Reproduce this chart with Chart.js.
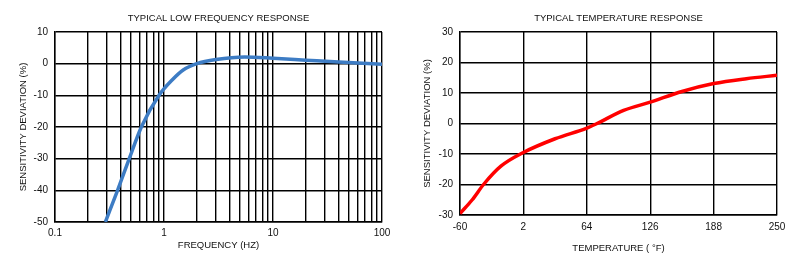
<!DOCTYPE html>
<html>
<head>
<meta charset="utf-8">
<script src="https://cdn.jsdelivr.net/npm/chart.js@4.4.1/dist/chart.umd.min.js"></script>
<style>
  html, body { margin: 0; padding: 0; background: #fff; }
  .wrap { position: relative; width: 800px; height: 271px; }
  .box { position: absolute; top: 0; width: 400px; height: 271px; }
</style>
</head>
<body>
<div class="wrap">
  <div class="box" style="left:0"><canvas id="freqChart" width="400" height="271"></canvas></div>
  <div class="box" style="left:400px"><canvas id="tempChart" width="400" height="271"></canvas></div>
</div>
<script>
// ---- data: low frequency response ----
const freqHz = [0.29, 0.375, 0.48, 0.62, 0.9, 1.2, 1.5, 2, 3, 5.5, 10, 20, 40, 100];
const freqDev = [-50, -40, -30, -20, -10, -5, -2, 0, 1.3, 2.1, 1.7, 1.1, 0.5, -0.2];
const freqTicks = [0.1, 0.2, 0.3, 0.4, 0.5, 0.6, 0.7, 0.8, 0.9,
  1, 2, 3, 4, 5, 6, 7, 8, 9, 10, 20, 30, 40, 50, 60, 70, 80, 90, 100];

// ---- data: temperature response ----
const tempF = [-60, -48, -37, -20, 2, 33, 64, 74, 100, 126, 157, 188, 220, 250];
const tempDev = [-29.5, -25, -20, -14, -9.5, -5, -1.5, 0, 4.3, 7, 10.5, 13.1, 14.7, 15.8];

const textColor = "#111";
const family = "'Liberation Sans', Arial, sans-serif";
const tickFont = { family: family, size: 10 };
const labelFont = { family: family, size: 9.5 };

Chart.defaults.font.family = family;
Chart.defaults.color = textColor;

function fixWidth(w) {
  return (axis) => { axis.width = w; };
}
function fixHeight(h) {
  return (axis) => { axis.height = h; };
}

function baseOptions(title) {
  return {
    responsive: false,
    animation: false,
    layout: { padding: { left: 0, top: 0, bottom: 0 } },
    plugins: {
      legend: { display: false },
      tooltip: { enabled: false },
      title: {
        display: true,
        text: title,
        fullSize: false,
        color: textColor,
        font: { size: 9.5, weight: "normal" },
        padding: { top: 12.3, bottom: 8.3 },
      },
    },
    elements: { point: { radius: 0 } },
  };
}

// Left chart
const freqOpts = baseOptions("TYPICAL LOW FREQUENCY RESPONSE");
freqOpts.layout.padding.right = 18;
freqOpts.scales = {
  x: {
    type: "logarithmic",
    min: 0.1,
    max: 100,
    afterBuildTicks: (axis) => {
      axis.ticks = freqTicks.map((v) => ({ value: v }));
    },
    afterFit: fixHeight(49),
    grid: { color: "#000", lineWidth: 1.4, drawTicks: false },
    border: { color: "#000", width: 1.4 },
    ticks: {
      padding: 5,
      autoSkip: false,
      maxRotation: 0,
      font: tickFont,
      callback: (v) => {
        const l = Math.log10(v);
        return Math.abs(l - Math.round(l)) < 1e-6 ? String(v) : "";
      },
    },
    title: { display: true, text: "FREQUENCY (HZ)", font: labelFont, padding: { top: 0, bottom: 20 } },
  },
  y: {
    min: -50,
    max: 10,
    afterFit: fixWidth(55),
    grid: { color: "#000", lineWidth: 1.4, drawTicks: false },
    border: { color: "#000", width: 1.4 },
    ticks: { stepSize: 10, padding: 7, autoSkip: false, font: tickFont },
    title: { display: true, text: "SENSITIVITY DEVIATION (%)", font: labelFont, padding: { top: 18, bottom: 0 } },
  },
};

new Chart(document.getElementById("freqChart"), {
  type: "line",
  data: {
    datasets: [{
      data: freqHz.map((x, i) => ({ x: x, y: freqDev[i] })),
      borderColor: "#3d7cc4",
      borderWidth: 3.5,
      cubicInterpolationMode: "monotone",
      fill: false,
    }],
  },
  options: freqOpts,
});

// Right chart
const tempOpts = baseOptions("TYPICAL TEMPERATURE RESPONSE");
tempOpts.layout.padding.right = 23;
tempOpts.scales = {
  x: {
    type: "linear",
    min: -60,
    max: 250,
    afterFit: fixHeight(56),
    grid: { color: "#000", lineWidth: 1.4, drawTicks: false },
    border: { color: "#000", width: 1.4 },
    ticks: { stepSize: 62, padding: 6, maxRotation: 0, autoSkip: false, font: tickFont },
    title: { display: true, text: "TEMPERATURE ( °F)", font: labelFont, padding: { top: 0, bottom: 17 } },
  },
  y: {
    min: -30,
    max: 30,
    afterFit: fixWidth(60),
    grid: { color: "#000", lineWidth: 1.4, drawTicks: false },
    border: { color: "#000", width: 1.4 },
    ticks: { stepSize: 10, padding: 7, autoSkip: false, font: tickFont },
    title: { display: true, text: "SENSITIVITY DEVIATION (%)", font: labelFont, padding: { top: 22, bottom: 0 } },
  },
};

new Chart(document.getElementById("tempChart"), {
  type: "line",
  data: {
    datasets: [{
      data: tempF.map((x, i) => ({ x: x, y: tempDev[i] })),
      borderColor: "#ff0000",
      borderWidth: 3.5,
      cubicInterpolationMode: "monotone",
      fill: false,
    }],
  },
  options: tempOpts,
});
</script>
</body>
</html>
